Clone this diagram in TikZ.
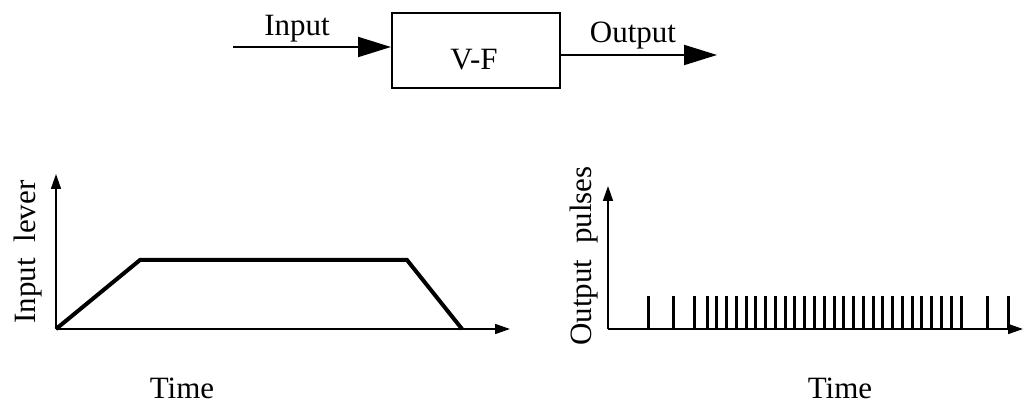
\documentclass[tikz,border=0pt]{standalone}
\usepackage{fontspec}
\setmainfont{Liberation Serif}
\usetikzlibrary{arrows.meta}
\begin{document}
\begin{tikzpicture}[x=1pt,y=-1pt,
  lbl/.style={font=\fontsize{31}{37}\selectfont, inner sep=0pt},
  bigarrow/.style={line width=2pt,-{Triangle[length=33pt,width=20pt]}},
  axis/.style={line width=1.6pt,-{Triangle[length=15pt,width=10pt]}},
  curve/.style={line width=4pt,line join=miter},
  pulse/.style={line width=3pt}]
\useasboundingbox (0,0) rectangle (1025,403);
% block diagram
\node[draw,line width=2pt,minimum width=168pt,minimum height=75pt,inner sep=0pt] (vf) at (476,51) {};
\node[lbl] (vft) at (474,60) {V-F};
\coordinate (inStart) at (233,47);
\coordinate (outEnd) at (717,55);
\draw[bigarrow] (inStart) -- (inStart -| vf.west);
\draw[bigarrow] (outEnd -| vf.east) -- (outEnd);
\node[lbl,anchor=base] (inlbl) at (297,36) {Input};
\node[lbl,anchor=base] (outlbl) at (633,43) {Output};
% left plot
\coordinate (o1) at (56,329);
\coordinate (y1) at (56,174);
\coordinate (x1) at (510,329);
\draw[axis] (o1) -- (y1);
\draw[axis] (o1) -- (x1);
\coordinate (a1) at (140,260);
\coordinate (a2) at (407,260);
\coordinate (a3) at (462,329);
\draw[curve] (o1) -- (a1) -- (a2) -- (a3);
\node[lbl,anchor=base,rotate=90] (ylbl1) at (35,252) {Input\ \ lever};
\node[lbl,anchor=base] (t1) at (182,398) {Time};
% right plot
\coordinate (o2) at (608,329);
\coordinate (y2) at (608,186);
\coordinate (x2) at (1023,329);
\draw[axis] (o2) -- (y2);
\draw[axis] (o2) -- (x2);
\foreach \p in {648,673,694,707,716.77,726.54,736.31,746.08,755.85,765.62,775.38,785.15,794.92,804.69,814.46,824.23,834,843.77,853.54,863.31,873.08,882.85,892.62,902.38,912.15,921.92,931.69,941.46,951.23,961,987,1008}
  \draw[pulse] (\p,296) -- (\p,329);
\node[lbl,anchor=base,rotate=90] (ylbl2) at (591,256) {Output\ \ pulses};
\node[lbl,anchor=base] (t2) at (840,398) {Time};
\end{tikzpicture}
\end{document}
